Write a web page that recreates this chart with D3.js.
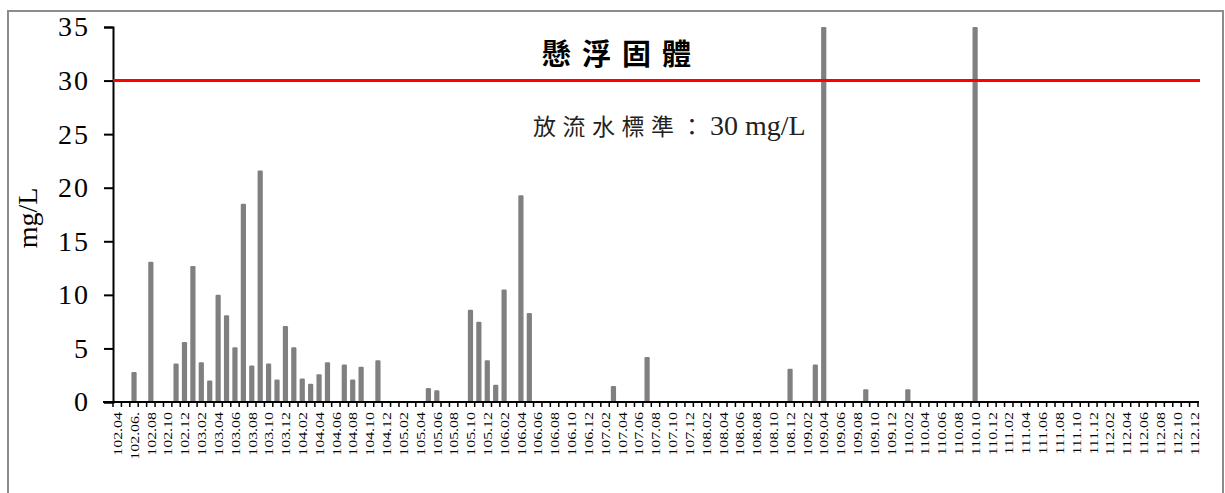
<!DOCTYPE html>
<html>
<head>
<meta charset="utf-8">
<script src="https://cdn.jsdelivr.net/npm/d3@7"></script>
<style>
  body { margin: 0; background: #fff; }
  .tickY { font-family: "Liberation Serif", "Times New Roman", serif; font-size: 28px; fill: #000; }
  .tickX { font-family: "Liberation Serif", "Times New Roman", serif; font-size: 13.5px; fill: #000; }
  .axisTitle { font-family: "Liberation Serif", "Times New Roman", serif; font-size: 28px; fill: #000; }
</style>
</head>
<body>
<div id="chart"></div>
<script>
var svgWidth = 1225;
var svgHeight = 493;

// monthly categories (ROC year.month), 102.04 .. 112.12
var months = [];
for (var yr = 102; yr <= 112; yr++) {
  for (var m = 1; m <= 12; m++) {
    if (yr === 102 && m < 4) continue;
    months.push(yr + "." + (m < 10 ? "0" + m : m));
  }
}
// the original sheet has a stray dot on this one label
var monthLabels = months.map(function(d) { return d === "102.06" ? "102.06." : d; });

// sampled months and suspended solids (mg/L); the two tall bars run off the top of the axis
var sampleMonths = ["102.06", "102.08", "102.11", "102.12", "103.01", "103.02", "103.03", "103.04",
  "103.05", "103.06", "103.07", "103.08", "103.09", "103.10", "103.11", "103.12", "104.01",
  "104.02", "104.03", "104.04", "104.05", "104.07", "104.08", "104.09", "104.11", "105.05",
  "105.06", "105.10", "105.11", "105.12", "106.01", "106.02", "106.04", "106.05", "107.03",
  "107.07", "108.12", "109.03", "109.04", "109.09", "110.02", "110.10"];
var ssValues = [2.8, 13.1, 3.6, 5.6, 12.7, 3.7, 2.0, 10.0,
  8.1, 5.1, 18.5, 3.4, 21.6, 3.6, 2.1, 7.1, 5.1,
  2.2, 1.7, 2.6, 3.7, 3.5, 2.1, 3.3, 3.9, 1.3,
  1.1, 8.6, 7.5, 3.9, 1.6, 10.5, 19.3, 8.3, 1.5,
  4.2, 3.1, 3.5, 40, 1.2, 1.2, 40];

var yTicks = [0, 5, 10, 15, 20, 25, 30, 35];
var limitValue = 30;
var titleText = "懸浮固體";
var limitText = "放流水標準：";
var limitUnit = "30 mg/L";

var plot = { left: 113, right: 1198, top: 27, bottom: 402 };

var svg = d3.select("#chart")
  .append("svg")
  .attr("width", svgWidth)
  .attr("height", svgHeight);

// outer frame
svg.append("rect")
  .attr("x", 8).attr("y", 11)
  .attr("width", 1215).attr("height", 500)
  .attr("fill", "none")
  .attr("stroke", "#8c8c8c")
  .attr("stroke-width", 2);

var x = d3.scaleBand()
  .domain(months)
  .range([plot.left, plot.right])
  .paddingInner(0.38)
  .paddingOuter(0.19);

var y = d3.scaleLinear()
  .domain([0, 35])
  .range([plot.bottom, plot.top])
  .clamp(true);

var data = sampleMonths.map(function(d, i) { return { month: d, value: ssValues[i] }; });

// bars
svg.append("g").selectAll("rect")
  .data(data)
  .enter().append("rect")
    .attr("x", function(d) { return x(d.month); })
    .attr("y", function(d) { return y(d.value); })
    .attr("width", x.bandwidth())
    .attr("height", function(d) { return y(0) - y(d.value); })
    .attr("rx", 1.2)
    .attr("fill", "#808080");

// y axis
var leftAxis = d3.axisLeft(y).tickValues(yTicks).tickSize(9).tickPadding(14);
var gy = svg.append("g")
  .attr("transform", "translate(" + plot.left + ",0)")
  .call(leftAxis);
gy.select(".domain").attr("stroke", "#000").attr("stroke-width", 2);
gy.selectAll(".tick line").attr("stroke", "#000").attr("stroke-width", 2);
gy.selectAll(".tick text")
  .attr("class", "tickY")
  .attr("font-family", null).attr("font-size", null)
  .style("letter-spacing", "2px");

// x axis: ticks at category boundaries, labels every other month
var step = x.step();
var bounds = d3.range(months.length + 1).map(function(i) { return plot.left + i * step; });
var gx = svg.append("g");
gx.selectAll("line.tk")
  .data(bounds)
  .enter().append("line")
    .attr("class", "tk")
    .attr("x1", function(d) { return d; })
    .attr("x2", function(d) { return d; })
    .attr("y1", plot.bottom)
    .attr("y2", plot.bottom + 5)
    .attr("stroke", "#000")
    .attr("stroke-width", 1.5);
gx.append("line")
  .attr("x1", plot.left - 10).attr("x2", plot.right + 1)
  .attr("y1", plot.bottom).attr("y2", plot.bottom)
  .attr("stroke", "#000").attr("stroke-width", 2);

gx.selectAll("text")
  .data(months.filter(function(d, i) { return i % 2 === 0; }))
  .enter().append("text")
    .attr("class", "tickX")
    .attr("text-anchor", "end")
    .attr("dy", "0.35em")
    .attr("transform", function(d) {
      return "translate(" + (x(d) + x.bandwidth() / 2) + "," + (plot.bottom + 10) + ") rotate(-90) scale(1.18,1)";
    })
    .text(function(d) { return monthLabels[months.indexOf(d)]; });

// discharge standard line
svg.append("line")
  .attr("x1", plot.left).attr("x2", plot.right + 2)
  .attr("y1", y(limitValue)).attr("y2", y(limitValue))
  .attr("stroke", "#ff0000")
  .attr("stroke-width", 3);

// y axis title
svg.append("text")
  .attr("class", "axisTitle")
  .attr("text-anchor", "middle")
  .attr("transform", "translate(37,218) rotate(-90)")
  .text("mg/L");

// chart title
svg.append("text")
  .attr("x", 542).attr("y", 65)
  .attr("font-family", "'Noto Sans CJK TC', sans-serif")
  .attr("font-size", 29)
  .attr("font-weight", 700)
  .style("letter-spacing", "11px")
  .text(titleText);

// standard annotation
var ann = svg.append("text")
  .attr("x", 533).attr("y", 135)
  .attr("fill", "#222");
ann.append("tspan")
  .attr("font-family", "'Noto Sans CJK TC', sans-serif")
  .attr("font-size", 23)
  .style("letter-spacing", "6.5px")
  .text(limitText);
ann.append("tspan")
  .attr("font-family", "'Liberation Serif', serif")
  .attr("font-size", 28)
  .style("letter-spacing", "0px")
  .text(limitUnit);
</script>
</body>
</html>
